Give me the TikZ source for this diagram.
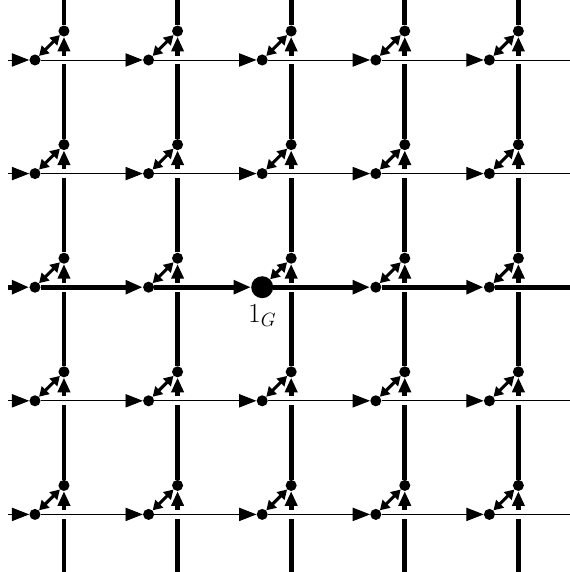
\documentclass[tikz,border=0pt]{standalone}
\usetikzlibrary{arrows.meta,positioning,calc}
\pgfdeclarelayer{back}
\pgfdeclarelayer{mid}
\pgfsetlayers{back,mid,main}

\begin{document}
\begin{tikzpicture}[x=3cm, y=3cm,
    dot/.style={circle, fill=black, inner sep=0pt, minimum size=8.3pt},
    bigdot/.style={circle, fill=black, inner sep=0pt, minimum size=16.5pt},
    vedge/.style={line width=3.5pt},
    varr/.style={vedge, -{Triangle[length=11pt, width=9pt]}},
    harr/.style={-{Triangle[length=13pt, width=10pt]}},
    darr/.style={line width=2.3pt, {Triangle[length=7pt, width=8pt]}-{Triangle[length=7pt, width=8pt]}},
    gapband/.style={white, line width=6.5pt},
    lab/.style={font=\fontsize{21}{24}\selectfont}
  ]
  \useasboundingbox (-0.308,0.528) rectangle (4.709,-4.507);
  \foreach \i in {0,...,4} {
    \foreach \j in {0,...,4} {
      \node[dot] (a-\i-\j) at (\i,-\j) {};
      \node[dot] (b-\i-\j) at (\i+0.255,-\j+0.255) {};
    }
    \coordinate (w-\i) at (-0.238,-\i);
    \coordinate (e-\i) at (4.709,-\i);
    \coordinate (n-\i) at (\i+0.255,0.528);
    \coordinate (s-\i) at (\i+0.255,-4.507);
  }
  \node[bigdot] (a-2-2) at (2,-2) {};
  \node[lab, below=1pt of a-2-2] (unit) {$1_G$};

  \begin{pgfonlayer}{back}
    \foreach \i in {0,...,4} {
      \draw[vedge] (n-\i) -- (b-\i-0);
      \draw[varr] (s-\i) -- (b-\i-4);
      \foreach \j [evaluate=\j as \k using int(\j+1)] in {0,...,3}
        \draw[varr] (b-\i-\k) -- (b-\i-\j);
    }
  \end{pgfonlayer}
  \begin{pgfonlayer}{mid}
    \foreach \j in {0,...,4}
      \draw[gapband] (w-\j) -- (e-\j);
  \end{pgfonlayer}

  \foreach \j/\hw in {0/0.7pt,1/0.7pt,2/3.5pt,3/0.7pt,4/0.7pt} {
    \draw[harr, line width=\hw] (w-\j) -- (a-0-\j);
    \foreach \i [evaluate=\i as \k using int(\i-1)] in {1,...,4}
      \draw[harr, line width=\hw] (a-\k-\j) -- (a-\i-\j);
    \draw[line width=\hw] (a-4-\j) -- (e-\j);
    \foreach \i in {0,...,4}
      \draw[darr] (a-\i-\j) -- (b-\i-\j);
  }
\end{tikzpicture}
\end{document}
